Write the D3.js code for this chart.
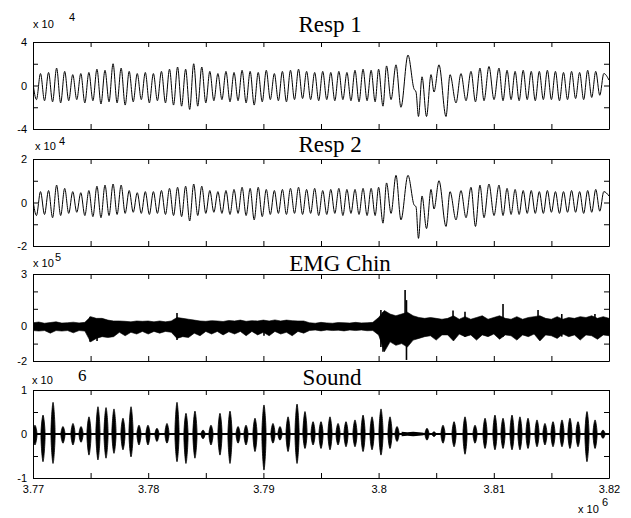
<!DOCTYPE html>
<html>
<head>
<meta charset="utf-8">
<script src="https://cdn.jsdelivr.net/npm/d3@7"></script>
<style>
  body { margin: 0; background: #fff; }
  .axis text { font: 11px "Liberation Sans", Arial, sans-serif; fill: #000; }
  .axis path, .axis line { stroke: #000; stroke-width: 1; }
  .title { font: 23px "Liberation Serif", "Times New Roman", serif; fill: #000; }
  .expo { font: 11px "Liberation Sans", Arial, sans-serif; fill: #000; }
</style>
</head>
<body>
<div id="chart"></div>
<script>
// x values are in thousands of samples (axis shows x 10^6)
const xTicks = [3770, 3775, 3780, 3785, 3790, 3795, 3800, 3805, 3810, 3815, 3820];
const xLabels = [3770, 3780, 3790, 3800, 3810, 3820];

const titles = ["Resp 1", "Resp 2", "EMG Chin", "Sound"];
const exponents = ["4", "4", "5", "6"];
const yDomains = [[-4, 4], [-2, 2], [-2, 3], [-1, 1]];
const yTicks = [[-4, -2, 0, 2, 4], [-2, -1, 0, 1, 2], [-2, -1, 0, 1, 2, 3], [-1, -0.5, 0, 0.5, 1]];
const yLabels = [[-4, 0, 4], [-2, 0, 2], [-2, 0, 3], [-1, 0, 1]];

// respiration: alternating peaks / troughs (shared timing for both belts)
const respT = [
  3770.0,3770.3,3770.65,3771.0,3771.35,3771.7,3772.05,3772.4,3772.75,3773.1,
  3773.45,3773.8,3774.15,3774.5,3774.85,3775.2,3775.55,3775.9,3776.25,3776.6,
  3776.95,3777.3,3777.65,3778.0,3778.35,3778.7,3779.05,3779.4,3779.75,3780.1,
  3780.45,3780.8,3781.15,3781.5,3781.85,3782.2,3782.55,3782.9,3783.25,3783.6,
  3783.95,3784.3,3784.65,3785.0,3785.35,3785.7,3786.05,3786.4,3786.75,3787.1,
  3787.45,3787.8,3788.15,3788.5,3788.85,3789.2,3789.55,3789.9,3790.25,3790.6,
  3790.95,3791.3,3791.65,3792.0,3792.35,3792.7,3793.05,3793.4,3793.75,3794.1,
  3794.45,3794.8,3795.15,3795.5,3795.85,3796.2,3796.55,3796.9,3797.25,3797.6,
  3797.95,3798.3,3798.65,3799.0,3799.35,3799.7,3800.0,3800.38,3800.69,3801.08,
  3801.51,3801.94,3802.55,3803.07,3803.25,3803.46,3803.77,3804.16,3804.55,3804.81,
  3805.24,3805.85,3806.2,3806.72,3807.15,3807.59,3808.02,3808.41,3808.8,3809.15,
  3809.58,3810.02,3810.45,3810.8,3811.15,3811.5,3811.85,3812.2,3812.55,3812.9,
  3813.25,3813.6,3813.95,3814.3,3814.65,3815.0,3815.35,3815.7,3816.05,3816.4,
  3816.75,3817.1,3817.45,3817.8,3818.15,3818.5,3818.85,3819.2,3819.55,3820.0
];
const resp1V = [
  0.2,-1.3,1.1,-1.4,1.2,-1.5,1.6,-1.6,1.3,-1.4,
  1.0,-1.3,1.1,-1.6,1.2,-1.4,1.5,-1.7,1.4,-1.5,
  2.0,-1.6,1.6,-1.8,1.3,-1.5,1.1,-1.3,1.2,-1.6,
  1.1,-1.4,1.3,-1.6,1.5,-1.8,1.7,-1.9,1.5,-2.2,
  2.0,-1.9,1.7,-1.6,1.3,-1.4,1.1,-1.3,1.3,-1.5,
  1.2,-1.4,1.4,-1.6,1.3,-1.8,1.2,-1.5,1.4,-1.3,
  1.1,-1.4,1.3,-1.5,1.4,-1.3,1.5,-1.2,1.3,-1.3,
  1.2,-1.4,1.3,-1.3,1.2,-1.4,1.3,-1.3,1.2,-1.4,
  1.4,-1.5,1.5,-1.4,1.4,-1.5,1.5,-1.9,1.8,-1.3,
  1.9,-2.0,2.8,-0.3,-0.6,-2.85,0.8,-2.85,1.0,-0.6,
  1.9,-2.85,1.0,-1.6,1.1,-1.4,1.3,-1.5,1.6,-1.4,
  1.75,-1.3,1.6,-1.4,1.4,-1.3,1.3,-1.4,1.4,-1.3,
  1.3,-1.4,1.3,-1.3,1.4,-1.3,1.3,-1.4,1.2,-1.3,
  1.3,-1.2,1.2,-1.3,1.4,-1.1,1.3,-0.9,1.1,0.5
];
const resp2V = [
  0.1,-0.6,0.5,-0.55,0.55,-0.7,0.8,-0.6,0.65,-0.5,
  0.5,-0.45,0.45,-0.6,0.55,-0.65,0.75,-0.7,0.8,-0.6,
  0.85,-0.55,0.8,-0.5,0.55,-0.45,0.45,-0.5,0.5,-0.55,
  0.5,-0.5,0.55,-0.55,0.65,-0.6,0.7,-0.65,0.75,-0.85,
  0.85,-0.6,0.75,-0.5,0.55,-0.45,0.5,-0.5,0.55,-0.55,
  0.6,-0.5,0.7,-0.6,0.65,-0.8,0.7,-0.65,0.6,-0.55,
  0.55,-0.5,0.6,-0.55,0.65,-0.5,0.7,-0.55,0.6,-0.5,
  0.65,-0.6,0.55,-0.55,0.6,-0.5,0.65,-0.6,0.6,-0.5,
  0.6,-0.55,0.65,-0.6,0.65,-0.6,0.7,-0.95,0.9,-0.5,
  1.25,-0.8,1.25,-0.1,-0.2,-1.65,0.3,-1.2,0.6,-0.3,
  1.0,-1.1,0.5,-0.8,0.55,-0.7,0.7,-1.1,0.8,-0.7,
  0.85,-0.6,0.8,-0.6,0.65,-0.55,0.6,-0.55,0.55,-0.5,
  0.55,-0.5,0.5,-0.5,0.55,-0.45,0.5,-0.5,0.5,-0.45,
  0.55,-0.45,0.5,-0.5,0.55,-0.45,0.6,-0.4,0.5,0.3
];

// EMG: band envelope sampled every 0.5 (x 10^3 samples), plus isolated spikes
const emgStart = 3770, emgStep = 0.5;
const emgHi = [
  0.2,0.24,0.17,0.21,0.25,0.18,0.2,0.23,0.19,0.22,
  0.55,0.45,0.45,0.35,
  0.3,0.3,0.28,0.25,0.3,0.28,0.3,0.25,0.3,0.25,0.3,
  0.5,0.45,0.4,0.35,
  0.3,0.28,0.32,0.3,0.27,0.33,0.3,0.35,0.28,0.32,0.3,0.35,0.3,0.36,0.3,0.35,0.32,0.3,0.3,
  0.2,0.17,0.22,0.19,0.17,0.21,0.2,0.18,0.22,0.19,0.2,0.22,
  0.5,0.9,0.7,0.6,0.7,
  0.8,0.6,0.5,0.45,0.5,0.45,0.4,
  0.45,0.6,0.4,0.55,0.4,0.5,0.6,0.4,0.5,0.6,0.45,0.4,0.55,0.4,0.5,0.55,0.6,0.45,0.4,0.55,0.4,0.5,0.45,0.55,0.5,0.6,0.45,0.55,0.45
];
const emgLo = [
  -0.25,-0.28,-0.25,-0.4,-0.25,-0.28,-0.25,-0.38,-0.25,-0.28,
  -0.9,-0.7,-0.6,-0.65,
  -0.6,-0.35,-0.55,-0.35,-0.45,-0.3,-0.45,-0.3,-0.4,-0.3,-0.35,
  -0.7,-0.6,-0.65,-0.4,
  -0.55,-0.3,-0.45,-0.3,-0.5,-0.32,-0.45,-0.3,-0.55,-0.3,-0.5,-0.35,-0.55,-0.3,-0.45,-0.35,-0.55,-0.3,-0.4,
  -0.25,-0.22,-0.27,-0.22,-0.25,-0.23,-0.27,-0.22,-0.25,-0.22,-0.26,-0.25,
  -0.5,-1.47,-0.9,-1.1,-1.0,
  -1.2,-0.8,-0.7,-0.6,-0.55,-0.8,-0.5,
  -0.5,-0.85,-0.45,-0.6,-0.5,-0.8,-0.5,-0.6,-0.45,-0.75,-0.5,-0.55,-0.8,-0.5,-0.6,-0.45,-0.85,-0.5,-0.55,-0.7,-0.45,-0.6,-0.5,-0.8,-0.5,-0.55,-0.75,-0.5,-0.55
];
const emgSpikeT = [3774.95,3775.56,3782.5,3790.05,3800.2,3800.38,3802.3,3802.42,3806.46,3807.5,3810.8,3813.84,3815.9,3818.78];
const emgSpikeHi = [0.55,0.4,0.76,0.3,0.93,0.8,2.08,1.5,0.9,0.83,1.28,0.93,0.7,0.7];
const emgSpikeLo = [-0.89,-0.85,-0.8,-0.55,-1.2,-1.47,-1.0,-1.94,-0.6,-0.6,-0.6,-0.6,-0.6,-0.6];

// Sound: one burst per breath (centre, positive and negative extent)
const soundT = [
  3770.17,3770.87,3771.74,3772.60,3773.47,3774.17,3774.86,3775.64,3776.34,3777.03,
  3777.81,3778.51,3779.20,3779.98,3780.76,3781.63,3782.50,3783.28,3784.06,3784.76,
  3785.45,3786.23,3787.10,3787.80,3788.49,3789.27,3790.05,3790.83,3791.44,3792.14,
  3792.92,3793.61,3794.31,3795.00,3795.78,3796.48,3797.17,3797.95,3798.65,3799.43,
  3800.21,3800.99,3801.60,3804.20,3804.81,3805.59,3806.55,3807.50,3808.37,3809.24,
  3810.10,3810.80,3811.58,3812.27,3812.97,3813.75,3814.44,3815.14,3815.92,3816.61,
  3817.31,3818.09,3818.79,3819.48
];
const soundUp = [
  0.20,0.43,0.72,0.17,0.24,0.17,0.39,0.62,0.60,0.57,
  0.36,0.62,0.20,0.20,0.13,0.24,0.72,0.47,0.52,0.09,
  0.20,0.47,0.52,0.17,0.20,0.36,0.66,0.24,0.17,0.39,
  0.68,0.51,0.28,0.28,0.39,0.24,0.28,0.32,0.43,0.39,
  0.57,0.39,0.17,0.13,0.05,0.20,0.28,0.39,0.20,0.36,
  0.43,0.36,0.43,0.39,0.36,0.32,0.24,0.28,0.32,0.36,
  0.28,0.51,0.32,0.09
];
const soundDown = [
  -0.25,-0.63,-0.67,-0.21,-0.25,-0.19,-0.48,-0.59,-0.55,-0.44,
  -0.36,-0.52,-0.25,-0.25,-0.17,-0.21,-0.63,-0.67,-0.55,-0.11,
  -0.25,-0.48,-0.67,-0.21,-0.25,-0.40,-0.82,-0.21,-0.14,-0.40,
  -0.67,-0.33,-0.25,-0.33,-0.36,-0.25,-0.29,-0.29,-0.40,-0.36,
  -0.48,-0.33,-0.17,-0.14,-0.06,-0.21,-0.29,-0.46,-0.21,-0.33,
  -0.36,-0.33,-0.36,-0.36,-0.33,-0.29,-0.25,-0.29,-0.29,-0.33,
  -0.29,-0.63,-0.33,-0.10
];
const soundQuietT = [3802.0, 3802.5, 3803.0, 3803.5, 3803.9];
const soundQuietV = [0.05, 0.04, 0.05, 0.04, 0.03];

// layout
const W = 631, H = 518;
const left = 33, right = 609;
const tops = [42, 159, 274, 390];
const bottoms = [129, 246, 361, 478];
const titleX = [330, 330, 340, 332];
const titleY = [32, 152, 271, 385];

const svg = d3.select("#chart").append("svg")
    .attr("width", W)
    .attr("height", H);

const x = d3.scaleLinear().domain([3770, 3820]).range([left, right]);

const yScales = yDomains.map((dom, i) =>
    d3.scaleLinear().domain(dom).range([bottoms[i], tops[i]]));

const plots = [];
yScales.forEach(function (y, i) {
    svg.append("clipPath").attr("id", "clip" + i)
        .append("rect")
        .attr("x", left).attr("y", tops[i])
        .attr("width", right - left).attr("height", bottoms[i] - tops[i]);

    plots.push(svg.append("g").attr("clip-path", `url(#clip${i})`));

    // box with inward ticks on all four sides
    svg.append("g").attr("class", "axis")
        .attr("transform", `translate(${left},0)`)
        .call(d3.axisLeft(y).tickValues(yTicks[i]).tickSize(-5).tickSizeOuter(0).tickPadding(6)
            .tickFormat(d => yLabels[i].includes(d) ? String(d) : ""));
    svg.append("g").attr("class", "axis")
        .attr("transform", `translate(${right},0)`)
        .call(d3.axisRight(y).tickValues(yTicks[i]).tickSize(-5).tickSizeOuter(0).tickFormat(""));
    svg.append("g").attr("class", "axis")
        .attr("transform", `translate(0,${tops[i]})`)
        .call(d3.axisTop(x).tickValues(xTicks).tickSize(-5).tickSizeOuter(0).tickFormat(""));
    svg.append("g").attr("class", "axis")
        .attr("transform", `translate(0,${bottoms[i]})`)
        .call(d3.axisBottom(x).tickValues(xTicks).tickSize(-5).tickSizeOuter(0).tickPadding(7)
            .tickFormat(d => (i === 3 && xLabels.includes(d)) ? String(d / 1000) : ""));

    svg.append("text").attr("class", "title")
        .attr("x", titleX[i]).attr("y", titleY[i])
        .attr("text-anchor", "middle")
        .text(titles[i]);
});

// exponent labels (positions as in the figure)
svg.append("text").attr("class", "expo").attr("x", 33).attr("y", 28).text("x 10");
svg.append("text").attr("class", "expo").attr("x", 69).attr("y", 21).attr("font-size", 10).text(exponents[0]);
svg.append("text").attr("class", "expo").attr("x", 35).attr("y", 150).text("x 10");
svg.append("text").attr("class", "expo").attr("x", 59).attr("y", 145).attr("font-size", 10).text(exponents[1]);
svg.append("text").attr("class", "expo").attr("x", 33).attr("y", 267).text("x 10");
svg.append("text").attr("class", "expo").attr("x", 55).attr("y", 261).attr("font-size", 10).text(exponents[2]);
svg.append("text").attr("class", "expo").attr("x", 32).attr("y", 384).attr("font-size", 12).text("x 10");
svg.append("text").attr("x", 78).attr("y", 381)
    .style("font", '17px "Liberation Serif", "Times New Roman", serif').text(exponents[3]);
svg.append("text").attr("class", "expo").attr("x", 578).attr("y", 513).text("x 10");
svg.append("text").attr("class", "expo").attr("x", 602).attr("y", 506).attr("font-size", 9).text("6");

// Resp 1 and Resp 2
[resp1V, resp2V].forEach(function (vals, i) {
    const y = yScales[i];
    const line = d3.line()
        .x((d, k) => x(respT[k]))
        .y(d => y(d))
        .curve(d3.curveMonotoneX);
    plots[i].append("path")
        .datum(vals)
        .attr("d", line)
        .attr("fill", "none")
        .attr("stroke", "#000")
        .attr("stroke-width", 1);
});

// EMG Chin
(function () {
    const y = yScales[2];
    const area = d3.area()
        .x((d, k) => x(emgStart + k * emgStep))
        .y0((d, k) => y(emgLo[k]))
        .y1(d => y(d));
    plots[2].append("path")
        .datum(emgHi)
        .attr("d", area)
        .attr("fill", "#000")
        .attr("stroke", "#000")
        .attr("stroke-width", 0.6);
    plots[2].selectAll("line.spike")
        .data(emgSpikeT)
        .enter().append("line")
        .attr("class", "spike")
        .attr("x1", d => x(d)).attr("x2", d => x(d))
        .attr("y1", (d, k) => y(emgSpikeHi[k]))
        .attr("y2", (d, k) => y(emgSpikeLo[k]))
        .attr("stroke", "#000")
        .attr("stroke-width", 1.6);
})();

// Sound
(function () {
    const y = yScales[3];
    const halfW = 0.18;
    plots[3].append("line")
        .attr("x1", x(3770)).attr("x2", x(3820))
        .attr("y1", y(0)).attr("y2", y(0))
        .attr("stroke", "#000").attr("stroke-width", 2);

    // each burst drawn as a closed spindle through its four extremes
    const spindle = d3.line()
        .x(d => x(d[0]))
        .y(d => y(d[1]))
        .curve(d3.curveCatmullRomClosed.alpha(0.5));
    plots[3].selectAll("path.burst")
        .data(soundT)
        .enter().append("path")
        .attr("class", "burst")
        .attr("d", (d, k) => spindle([[d, soundUp[k]], [d + halfW, 0], [d, soundDown[k]], [d - halfW, 0]]))
        .attr("fill", "#000")
        .attr("stroke", "#000")
        .attr("stroke-width", 0.8);

    const quiet = d3.area()
        .x((d, k) => x(soundQuietT[k]))
        .y0(d => y(-d))
        .y1(d => y(d));
    plots[3].append("path")
        .datum(soundQuietV)
        .attr("d", quiet)
        .attr("fill", "#000");
})();
</script>
</body>
</html>
